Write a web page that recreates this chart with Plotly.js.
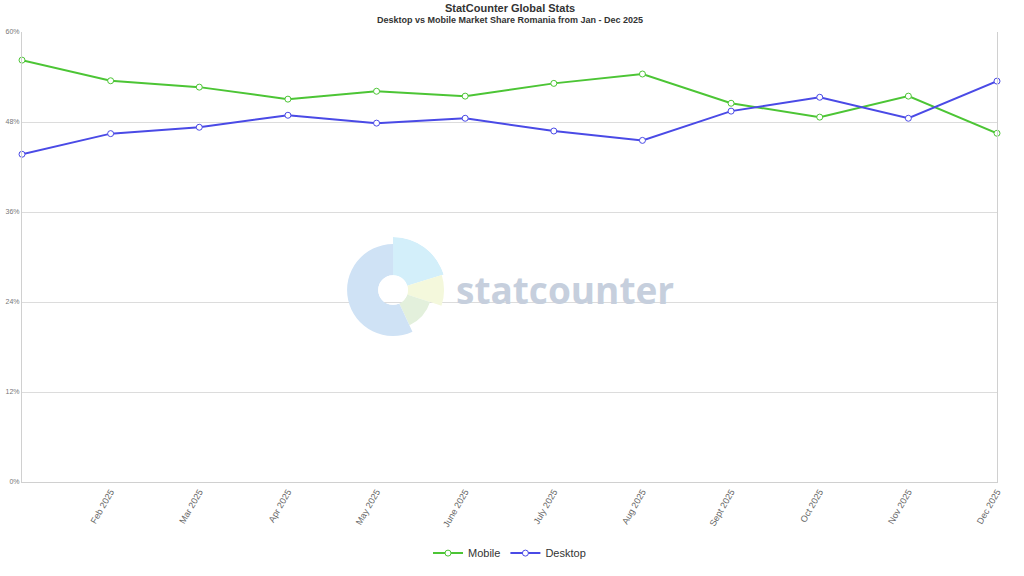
<!DOCTYPE html>
<html>
<head>
<meta charset="utf-8">
<script src="https://cdn.plot.ly/plotly-3.0.1.min.js"></script>
<style>html,body{margin:0;padding:0;background:#fff;}#chart{width:1024px;height:576px;}</style>
</head>
<body>
<div id="chart"></div>
<script>
const months = ["Jan 2025","Feb 2025","Mar 2025","Apr 2025","May 2025","June 2025","July 2025","Aug 2025","Sept 2025","Oct 2025","Nov 2025","Dec 2025"];
const mobile = [56.25, 53.5, 52.65, 51.05, 52.1, 51.45, 53.15, 54.4, 50.5, 48.65, 51.45, 46.5];
const desktop = [43.7, 46.45, 47.3, 48.9, 47.85, 48.5, 46.8, 45.55, 49.45, 51.3, 48.5, 53.45];
const yTicks = [0, 12, 24, 36, 48, 60];
const yTickText = ["0%", "12%", "24%", "36%", "48%", "60%"];
// watermark logo segments (decorative)
const logoTheta = [36.5, 90.5, 131.5, 257.5];
const logoWidth = [73, 35, 47, 205];
const logoR = [38, 36, 24, 31];
const logoColors = ["#d3effa", "#f4f8dc", "#e3f0dc", "#cfe2f5"];

const green = "#4cc535", blue = "#4a4ae6";
const traces = [
  {x: months, y: mobile, name: "Mobile", type: "scatter", mode: "lines+markers",
   line: {color: green, width: 2}, marker: {symbol: "circle", size: 6, color: "#fff", line: {color: green, width: 1}},
   cliponaxis: false, hoverinfo: "x+y"},
  {x: months, y: desktop, name: "Desktop", type: "scatter", mode: "lines+markers",
   line: {color: blue, width: 2}, marker: {symbol: "circle", size: 6, color: "#fff", line: {color: blue, width: 1}},
   cliponaxis: false, hoverinfo: "x+y"},
  {type: "barpolar", theta: logoTheta, width: logoWidth, r: logoR, marker: {color: logoColors, line: {width: 0}},
   showlegend: false, hoverinfo: "skip", subplot: "polar"}
];
const layout = {
  width: 1024, height: 576,
  paper_bgcolor: "#fff", plot_bgcolor: "#fff",
  margin: {l: 22, r: 27, t: 32, b: 94, autoexpand: false},
  font: {family: "Liberation Sans, Arial, sans-serif", color: "#666"},
  xaxis: {type: "category", range: [0, 11], tickvals: months.slice(1), ticktext: months.slice(1),
    tickangle: -60, tickfont: {size: 9, color: "#666"}, showgrid: false, zeroline: false,
    showline: true, linecolor: "#d0d0d0", linewidth: 1, mirror: false, ticks: "", fixedrange: true},
  yaxis: {range: [0, 60], tickvals: yTicks, ticktext: yTickText, tickfont: {size: 7, color: "#777"},
    showgrid: true, gridcolor: "#dcdcdc", gridwidth: 1, zeroline: false,
    showline: true, linecolor: "#d0d0d0", mirror: true, ticks: "", ticklen: 0, fixedrange: true},
  polar: {domain: {x: [0.3262, 0.4349], y: [0.3089, 0.5444]}, hole: 0.28, bgcolor: "rgba(0,0,0,0)",
    radialaxis: {range: [0, 38], visible: false}, angularaxis: {visible: false, direction: "clockwise", rotation: 90}},
  showlegend: true,
  legend: {orientation: "h", x: 0.5, xanchor: "center", xref: "paper", y: -0.158, yanchor: "middle",
    itemwidth: 30, font: {size: 11, color: "#333"}, bgcolor: "rgba(0,0,0,0)"},
  annotations: [
    {text: "<b>StatCounter Global Stats</b>", xref: "paper", yref: "paper", x: 0.5, y: 1, yshift: 24, xanchor: "center", yanchor: "middle",
     showarrow: false, font: {size: 11, color: "#333"}},
    {text: "<b>Desktop vs Mobile Market Share Romania from Jan - Dec 2025</b>", xref: "paper", yref: "paper", x: 0.5, y: 1, yshift: 12, xanchor: "center", yanchor: "middle",
     showarrow: false, font: {size: 9, color: "#333"}},
    {text: "<b>statcounter</b>", xref: "paper", yref: "paper", x: 0.4435, y: 0.4267, xanchor: "left", yanchor: "middle",
     showarrow: false, font: {size: 37, color: "#c6cfdd", family: "Open Sans, sans-serif"}}
  ]
};
Plotly.newPlot("chart", traces, layout, {displayModeBar: false, staticPlot: true});
</script>
</body>
</html>
